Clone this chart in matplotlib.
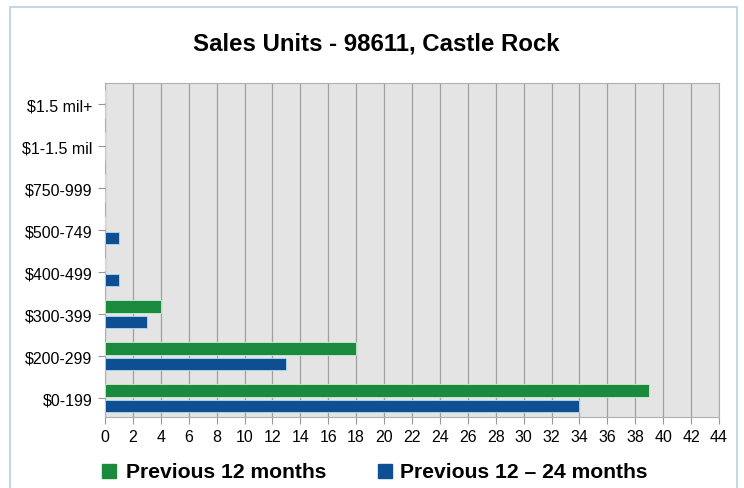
import matplotlib
matplotlib.use("Agg")
import matplotlib.pyplot as plt
import matplotlib.patches as patches
import numpy as np

plt.rcParams['font.family'] = ['Liberation Sans', 'DejaVu Sans']

# Price bands, bottom to top
categories = ['$0-199', '$200-299', '$300-399', '$400-499',
              '$500-749', '$750-999', '$1-1.5 mil', '$1.5 mil+']
prev_12 = [39, 18, 4, 0, 0, 0, 0, 0]
prev_12_24 = [34, 13, 3, 1, 1, 0, 0, 0]
series_names = ['Previous 12 months', 'Previous 12 \u2013 24 months']
x_ticks = list(range(0, 46, 2))

green = '#1c8a3e'
blue = '#0e4f92'

W, H = 744, 489
fig = plt.figure(figsize=(W / 100, H / 100), dpi=100)
fig.patch.set_facecolor('white')

# light blue frame around the chart
fig.patches.append(patches.Rectangle((10 / W, -0.01), (737 - 10) / W, 1 - 8 / H + 0.01,
                                     transform=fig.transFigure, fill=False,
                                     edgecolor='#b8cfe8', linewidth=1.2))

ax = fig.add_axes([105 / W, 1 - 418 / H, (719 - 105) / W, (418 - 84) / H])
ax.set_facecolor('#e4e4e4')

y = np.arange(len(categories))
h = 0.30
ax.barh(y + 0.185, prev_12, height=h, color=green, edgecolor='#c8f0d0', linewidth=0.6, zorder=3)
ax.barh(y - 0.185, prev_12_24, height=h, color=blue, edgecolor='#b0dcf5', linewidth=0.6, zorder=3)

ax.set_xlim(0, 44)
ax.set_ylim(-0.45, 7.5)
ax.set_xticks(x_ticks)
ax.set_yticks(y)
ax.set_yticklabels(categories)
ax.tick_params(axis='both', labelsize=11.5, colors='#999999', labelcolor='black', length=5)
ax.tick_params(axis='x', pad=4)
ax.tick_params(axis='y', pad=4)
ax.xaxis.grid(True, color='#a0a0a0', linewidth=0.9, zorder=1)
ax.set_axisbelow(True)
for s in ax.spines.values():
    s.set_color('#b0b0b0')
    s.set_linewidth(0.8)

fig.text(376 / W, 1 - 44 / H, 'Sales Units - 98611, Castle Rock', ha='center', va='center',
         fontsize=17.3, fontweight='bold')

# legend under the axis
ly = 1 - 472 / H
for x0, tx, col, name in [(102, 126, green, series_names[0]), (378, 400, blue, series_names[1])]:
    fig.patches.append(patches.Rectangle((x0 / W, ly - 7 / H), 14 / W, 14 / H,
                                         transform=fig.transFigure, color=col))
    fig.text(tx / W, ly, name, ha='left', va='center', fontsize=15.2, fontweight='bold')

fig.savefig('out.png', dpi=100, facecolor='white')
